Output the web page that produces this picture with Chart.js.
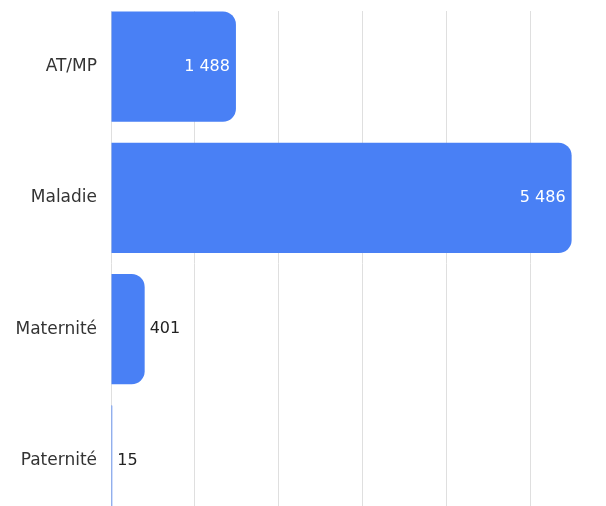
<!DOCTYPE html>
<html>
<head>
<meta charset="utf-8">
<script src="https://cdn.jsdelivr.net/npm/chart.js@4"></script>
<style>
  html, body { margin: 0; padding: 0; background: #fff; overflow: hidden; }
  #wrap { position: relative; width: 606px; height: 526px; }
</style>
</head>
<body>
<div id="wrap"><canvas id="absenceChart"></canvas></div>
<script>
const categories = ['AT/MP', 'Maladie', 'Maternité', 'Paternité'];
const values = [1488, 5486, 401, 15];
const gridTicks = [0, 1000, 2000, 3000, 4000, 5000];
const axisMax = 5800;

const barColor = 'rgb(73, 128, 245)';

function formatNumber(v) {
    return String(v).replace(/\B(?=(\d{3})+(?!\d))/g, ' ');
}

// gridlines start a little below the top of the plot in the original
const topMask = {
    id: 'topMask',
    beforeDatasetsDraw(chart) {
        const ctx = chart.ctx;
        const area = chart.chartArea;
        ctx.save();
        ctx.fillStyle = '#fff';
        ctx.fillRect(area.left - 2, 0, area.right - area.left + 4, 11);
        ctx.restore();
    }
};

const valueLabels = {
    id: 'valueLabels',
    afterDatasetsDraw(chart) {
        const ctx = chart.ctx;
        const meta = chart.getDatasetMeta(0);
        ctx.save();
        ctx.font = '16px "DejaVu Sans"';
        ctx.textBaseline = 'middle';
        meta.data.forEach((bar, i) => {
            const text = formatNumber(values[i]);
            const w = ctx.measureText(text).width;
            const barW = bar.x - bar.base;
            if (barW > w + 14) {
                ctx.fillStyle = '#fff';
                ctx.textAlign = 'right';
                ctx.fillText(text, bar.x - 6, bar.y);
            } else {
                ctx.fillStyle = '#222';
                ctx.textAlign = 'left';
                ctx.fillText(text, bar.x + 5, bar.y);
            }
        });
        ctx.restore();
    }
};

const ctx = document.getElementById('absenceChart').getContext('2d');
const absenceChart = new Chart(ctx, {
    type: 'bar',
    data: {
        labels: categories,
        datasets: [{
            data: values,
            backgroundColor: barColor,
            borderRadius: 13,
            borderSkipped: 'start',
            categoryPercentage: 1,
            barPercentage: 0.84
        }]
    },
    options: {
        indexAxis: 'y',
        responsive: true,
        maintainAspectRatio: false,
        animation: false,
        layout: { padding: { top: 1, right: 8, bottom: 0, left: 0 } },
        plugins: {
            legend: { display: false },
            tooltip: { enabled: false }
        },
        scales: {
            x: {
                min: 0,
                max: axisMax,
                ticks: { display: false },
                border: { display: false },
                grid: { drawTicks: false, color: '#dfdfdf' },
                afterBuildTicks(scale) { scale.ticks = gridTicks.map(v => ({ value: v })); },
                afterFit(scale) { scale.height = 0; scale.paddingLeft = 0; scale.paddingRight = 0; }
            },
            y: {
                border: { display: false },
                grid: { display: false, drawTicks: false },
                ticks: {
                    color: '#333',
                    padding: 14,
                    font: { family: '"DejaVu Sans"', size: 17 }
                },
                afterFit(scale) { scale.width = 111; scale.paddingTop = 0; scale.paddingBottom = 0; }
            }
        }
    },
    plugins: [topMask, valueLabels]
});
</script>
</body>
</html>
